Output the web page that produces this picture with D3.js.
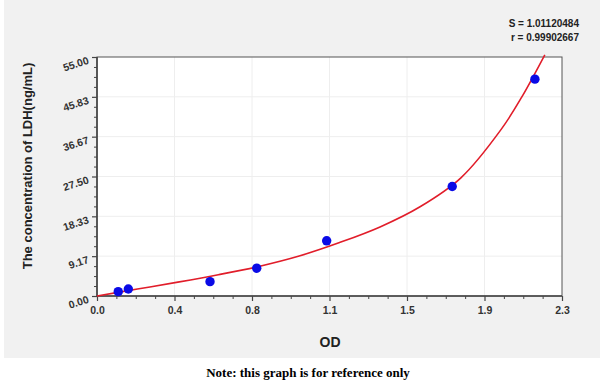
<!DOCTYPE html>
<html>
<head>
<meta charset="utf-8">
<script src="https://cdn.jsdelivr.net/npm/d3@7"></script>
<style>
  body { margin: 0; background: #fff; }
  svg { display: block; }
</style>
</head>
<body>
<div id="chart"></div>
<script>
// standards measured (OD, concentration)
const odValues = [0.105, 0.155, 0.559, 0.79, 1.136, 1.757, 2.166];
const concValues = [1.0, 1.6, 3.3, 6.4, 12.7, 25.2, 49.9];

// fitted curve
const curveOd = [0, 0.2, 0.4, 0.6, 0.8, 1.0, 1.2, 1.4, 1.6, 1.8, 2.0, 2.1, 2.215];
const curveConc = [0, 1.6, 3.2, 4.9, 6.8, 9.2, 12.3, 15.9, 20.6, 27.2, 38.4, 45.7, 55.5];

const xTickLabels = ["0.0", "0.4", "0.8", "1.1", "1.5", "1.9", "2.3"];
const yTickLabels = ["0.00", "9.17", "18.33", "27.50", "36.67", "45.83", "55.00"];
const fitStats = ["S = 1.01120484", "r = 0.99902667"];

const xMax = 2.3, yMax = 55;

const width = 600, height = 387;
const margin = { top: 57, right: 38, bottom: 91, left: 97 };
const innerW = width - margin.left - margin.right;
const innerH = height - margin.top - margin.bottom;

const svg = d3
  .select("#chart")
  .append("svg")
  .attr("width", width)
  .attr("height", height)
  .style("font-family", "Arial, 'Liberation Sans', sans-serif");

// gris de fond de la capture
svg.append("rect")
  .attr("x", 4).attr("y", 0)
  .attr("width", 596).attr("height", 358)
  .attr("fill", "#f1f1f1");

const g = svg.append("g")
  .attr("transform", `translate(${margin.left}, ${margin.top})`);

const x = d3.scaleLinear().domain([0, xMax]).range([0, innerW]);
const y = d3.scaleLinear().domain([0, yMax]).range([innerH, 0]);

const xMajor = xTickLabels.map((d, i) => (i * xMax) / (xTickLabels.length - 1));
const yMajor = yTickLabels.map((d, i) => (i * yMax) / (yTickLabels.length - 1));
const xMinor = d3.range(0, 24).map((i) => (i * xMax) / 24).filter((_, i) => i % 4);
const yMinor = d3.range(0, 24).map((i) => (i * yMax) / 24).filter((_, i) => i % 4);

g.append("rect")
  .attr("width", innerW)
  .attr("height", innerH)
  .attr("fill", "#fff");

// grille très pâle
g.append("g")
  .selectAll("line")
  .data(xMajor.slice(1, -1))
  .join("line")
  .attr("x1", (d) => x(d)).attr("x2", (d) => x(d))
  .attr("y1", 0).attr("y2", innerH)
  .attr("stroke", "#eeeeee");
g.append("g")
  .selectAll("line")
  .data(yMajor.slice(1, -1))
  .join("line")
  .attr("y1", (d) => y(d)).attr("y2", (d) => y(d))
  .attr("x1", 0).attr("x2", innerW)
  .attr("stroke", "#eeeeee");

// minor ticks
g.append("g")
  .attr("transform", `translate(0, ${innerH})`)
  .call(d3.axisBottom(x).tickValues(xMinor).tickSize(3).tickFormat(""))
  .call((a) => a.select(".domain").remove())
  .selectAll("line").attr("stroke", "#444");
g.append("g")
  .call(d3.axisLeft(y).tickValues(yMinor).tickSize(3).tickFormat(""))
  .call((a) => a.select(".domain").remove())
  .selectAll("line").attr("stroke", "#444");

const xAxis = g.append("g")
  .attr("transform", `translate(0, ${innerH})`)
  .call(d3.axisBottom(x).tickValues(xMajor).tickSize(5).tickPadding(6)
    .tickFormat((d, i) => xTickLabels[i]));
xAxis.select(".domain").remove();
xAxis.selectAll("line").attr("stroke", "#444").attr("stroke-width", 1.2);
xAxis.selectAll("text")
  .attr("fill", "#333")
  .style("font-size", "10.5px")
  .style("font-weight", "bold");

const yAxis = g.append("g")
  .call(d3.axisLeft(y).tickValues(yMajor).tickSize(5)
    .tickFormat((d, i) => yTickLabels[i]));
yAxis.select(".domain").remove();
yAxis.selectAll("line").attr("stroke", "#444").attr("stroke-width", 1.2);
yAxis.selectAll("text")
  .attr("fill", "#333")
  .attr("x", -9)
  .attr("dy", "0.32em")
  .attr("transform", "rotate(-18)")
  .style("font-size", "10.5px")
  .style("font-weight", "bold");

// cadre
g.append("rect")
  .attr("width", innerW)
  .attr("height", innerH)
  .attr("fill", "none")
  .attr("stroke", "#555")
  .attr("stroke-width", 1);
g.append("path")
  .attr("d", `M0,0V${innerH}H${innerW}`)
  .attr("fill", "none")
  .attr("stroke", "#444")
  .attr("stroke-width", 1.6);

const line = d3.line()
  .x((d) => x(d[0]))
  .y((d) => y(d[1]))
  .curve(d3.curveCatmullRom.alpha(0.5));

g.append("path")
  .datum(curveOd.map((d, i) => [d, curveConc[i]]))
  .attr("d", line)
  .attr("fill", "none")
  .attr("stroke", "#e11d2a")
  .attr("stroke-width", 1.6);

g.selectAll("circle")
  .data(odValues.map((d, i) => [d, concValues[i]]))
  .join("circle")
  .attr("cx", (d) => x(d[0]))
  .attr("cy", (d) => y(d[1]))
  .attr("r", 4.7)
  .attr("fill", "#0a0ae6");

// titres
svg.append("text")
  .attr("transform", "translate(32, 166) rotate(-90)")
  .attr("text-anchor", "middle")
  .attr("fill", "#222")
  .style("font-size", "13px")
  .style("font-weight", "bold")
  .text("The concentration of LDH(ng/mL)");

svg.append("text")
  .attr("x", 330).attr("y", 347)
  .attr("text-anchor", "middle")
  .attr("fill", "#222")
  .style("font-size", "14px")
  .style("font-weight", "bold")
  .text("OD");

svg.append("g")
  .selectAll("text")
  .data(fitStats)
  .join("text")
  .attr("x", 579)
  .attr("y", (d, i) => 27 + i * 14)
  .attr("text-anchor", "end")
  .attr("fill", "#222")
  .style("font-size", "10px")
  .style("font-weight", "bold")
  .text((d) => d);

svg.append("text")
  .attr("x", 308).attr("y", 377)
  .attr("text-anchor", "middle")
  .attr("fill", "#000")
  .style("font-family", "'Liberation Serif', 'Times New Roman', serif")
  .style("font-size", "13px")
  .style("font-weight", "bold")
  .text("Note: this graph is for reference only");
</script>
</body>
</html>
